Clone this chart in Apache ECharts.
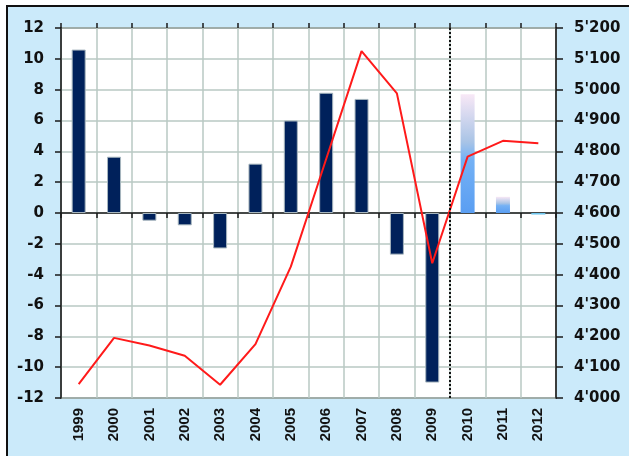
<!DOCTYPE html>
<html>
<head>
<meta charset="utf-8">
<script src="https://cdn.jsdelivr.net/npm/echarts@6/dist/echarts.min.js"></script>
<style>
  html, body { margin: 0; padding: 0; background: #fff; overflow: hidden; }
  #wrap { position: relative; width: 629px; height: 456px; }
  #panel { position: absolute; left: 6px; top: 5px; width: 660px; height: 480px;
           background: #CBEAFA; border-left: 2px solid #111; border-top: 2px solid #111; }
  #chart { position: absolute; left: 0; top: 0; width: 629px; height: 456px; }
</style>
</head>
<body>
<div id="wrap">
  <div id="panel"></div>
  <div id="chart"></div>
</div>
<script>
// Years on the category axis
const years = ['1999', '2000', '2001', '2002', '2003', '2004', '2005',
               '2006', '2007', '2008', '2009', '2010', '2011', '2012'];
// Annual change, % (bars, left axis)
const growth = [10.6, 3.65, -0.5, -0.8, -2.3, 3.2, 6.0, 7.8, 7.4, -2.7, -11.0, 7.7, 1.05, -0.1];
// Level (line, right axis)
const level = [4045, 4195, 4170, 4137, 4043, 4175, 4426, 4775, 5125, 4988, 4437, 4783, 4834, 4826];
// Left axis range and step
const leftMin = -12, leftMax = 12, leftStep = 2;
// Right axis range and step
const rightMin = 4000, rightMax = 5200, rightStep = 100;
// First forecast year (index into years)
const forecastFrom = 11;

const chart = echarts.init(document.getElementById('chart'), null, { renderer: 'canvas' });

const gridColor = '#B9C8C3';
const labelFont = { fontFamily: 'DejaVu Sans', fontWeight: 'bold', fontSize: 15, color: '#111' };

const forecastGradient = () => new echarts.graphic.LinearGradient(0, 0, 0, 1, [
  { offset: 0, color: '#F8E8F6' },
  { offset: 0.4, color: '#A9C4E6' },
  { offset: 0.55, color: '#74B1F5' },
  { offset: 1, color: '#5A9EF2' }
]);

const barData = growth.map((v, i) => {
  if (i < forecastFrom) return v;
  return {
    value: v,
    itemStyle: {
      color: v < 0 ? '#6EC6EE' : forecastGradient(),
      borderWidth: 0
    }
  };
});

const thousands = v => {
  const s = String(Math.round(v));
  return s.replace(/\B(?=(\d{3})+(?!\d))/g, "'");
};

chart.setOption({
  backgroundColor: 'transparent',
  animation: false,
  grid: {
    left: 61, right: 73, top: 28, bottom: 58,
    containLabel: false,
    outerBoundsMode: 'none',
    show: true, backgroundColor: '#fff', borderColor: '#2a2a2a', borderWidth: 1.5
  },
  xAxis: [
    {
      type: 'category',
      data: years,
      position: 'bottom',
      boundaryGap: true,
      axisLine: { onZero: true, lineStyle: { color: '#1a1a1a', width: 1.5 } },
      axisTick: { show: true, interval: 0, length: 5, lineStyle: { color: '#1a1a1a', width: 1.5 } },
      axisLabel: {
        interval: 0, rotate: 90, margin: 10,
        fontFamily: 'Liberation Sans', fontWeight: 'bold', fontSize: 15, color: '#111'
      },
      splitLine: { show: true, interval: 0, lineStyle: { color: gridColor, width: 1.5 } }
    },
    {
      // index scale along the same width, used for the zero-line ticks and the forecast divider
      type: 'value',
      position: 'top',
      min: 0, max: years.length, interval: 1,
      axisLine: { show: false, onZero: true },
      axisTick: { show: true, length: 5, lineStyle: { color: '#1a1a1a', width: 1.5 } },
      axisLabel: { show: false },
      splitLine: { show: false }
    }
  ],
  yAxis: [
    {
      type: 'value',
      min: leftMin, max: leftMax, interval: leftStep,
      position: 'left',
      axisLine: { show: true, lineStyle: { color: '#1a1a1a', width: 1.5 } },
      axisTick: { show: true, length: 6, lineStyle: { color: '#1a1a1a', width: 1.5 } },
      axisLabel: Object.assign({ margin: 17 }, labelFont),
      splitLine: { show: true, lineStyle: { color: gridColor, width: 1.5 } }
    },
    {
      type: 'value',
      min: rightMin, max: rightMax, interval: rightStep,
      position: 'right',
      axisLine: { show: true, lineStyle: { color: '#1a1a1a', width: 1.5 } },
      axisTick: { show: true, length: 7, lineStyle: { color: '#1a1a1a', width: 1.5 } },
      axisLabel: Object.assign({ margin: 18, formatter: thousands }, labelFont),
      splitLine: { show: false }
    }
  ],
  series: [
    {
      name: 'growth',
      type: 'bar',
      xAxisIndex: 0, yAxisIndex: 0,
      data: barData,
      barWidth: 14,
      itemStyle: { color: '#00215B', borderColor: '#A7B6BE', borderWidth: 1 },
      z: 2
    },
    {
      name: 'level',
      type: 'line',
      xAxisIndex: 0, yAxisIndex: 1,
      data: level,
      symbol: 'none',
      lineStyle: { color: '#FF1A1A', width: 2 },
      z: 4
    },
    {
      name: 'forecast divider',
      type: 'line',
      xAxisIndex: 1, yAxisIndex: 0,
      data: [],
      silent: true,
      markLine: {
        silent: true,
        symbol: 'none',
        label: { show: false },
        lineStyle: { color: '#111', type: [2, 2], width: 2 },
        data: [{ xAxis: forecastFrom }]
      },
      z: 3
    }
  ]
});
</script>
</body>
</html>
